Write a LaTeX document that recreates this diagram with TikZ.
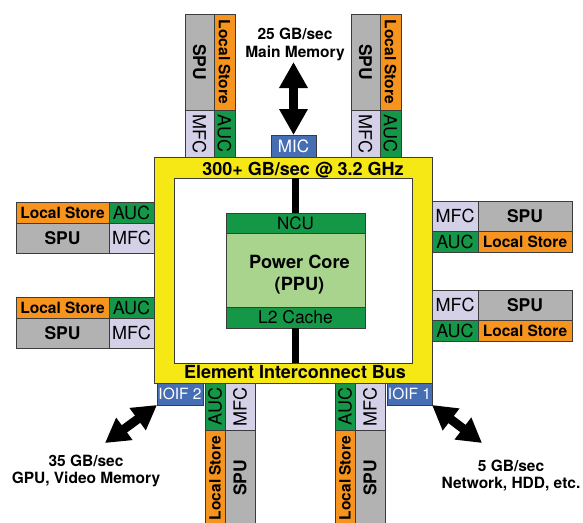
\documentclass[tikz,border=0pt]{standalone}
\usepackage{fontspec}
\setmainfont{TeX Gyre Heros}
\usetikzlibrary{arrows.meta}
\definecolor{yel}{RGB}{245,232,20}
\definecolor{orng}{RGB}{247,148,30}
\definecolor{dgreen}{RGB}{20,152,72}
\definecolor{lgreen}{RGB}{168,212,142}
\definecolor{gry}{RGB}{178,178,178}
\definecolor{lav}{RGB}{212,208,232}
\definecolor{blu}{RGB}{70,110,180}
\definecolor{edge}{RGB}{60,60,60}
\begin{document}
\begin{tikzpicture}[x=1pt,y=-1pt,
  bx/.style={draw=edge, line width=0.8pt, inner sep=0pt, outer sep=0pt, text=black},
  spu/.style={bx, fill=gry, font=\bfseries\fontsize{17.5}{20}\selectfont},
  ls/.style={bx, fill=orng, font=\bfseries\fontsize{15.5}{18}\selectfont},
  mfc/.style={bx, fill=lav, font=\fontsize{18}{20}\selectfont},
  auc/.style={bx, fill=dgreen, font=\fontsize{18}{20}\selectfont},
  iobox/.style={bx, fill=blu, text=white, font=\fontsize{15.5}{18}\selectfont},
  big/.style={inner sep=0pt, font=\bfseries\fontsize{18}{22}\selectfont},
  lab/.style={inner sep=0pt, align=center, font=\bfseries\fontsize{15.5}{17}\selectfont},
  dbl/.style={line width=9pt, {Triangle[length=24pt,width=26pt]}-{Triangle[length=24pt,width=26pt]}},
  dblv/.style={line width=9pt, {Triangle[length=26pt,width=27pt]}-{Triangle[length=26pt,width=27pt]}},
]
\useasboundingbox (0,0) rectangle (583,522);

% Element Interconnect Bus frame
\node[bx, fill=yel, minimum width=278pt, minimum height=226pt] (eib) at (293,270) {};
\node[bx, fill=white, minimum width=238pt, minimum height=185pt] (inner) at (293,270.5) {};
\node[big, anchor=base] (eibtop) at (303,175) {300+ GB/sec @ 3.2 GHz};
\node[big, anchor=base] (eibbot) at (295,378) {Element Interconnect Bus};

% Power core
\node[bx, fill=dgreen, minimum width=139pt, minimum height=20pt, font=\fontsize{17}{20}\selectfont] (ncu) at (295.5,223) {NCU};
\node[bx, fill=lgreen, minimum width=139pt, minimum height=74pt] (ppu) at (295.5,270) {};
\node[bx, fill=dgreen, minimum width=139pt, minimum height=21pt, font=\fontsize{17.5}{20}\selectfont] (l2) at (295.5,317.5) {L2 Cache};
\node[inner sep=0pt, align=center, font=\bfseries\fontsize{18.2}{22}\selectfont] (ppulab) at (299.5,275) {Power Core\\(PPU)};
\draw[line width=7pt] (ncu.north) -- (ncu.north |- inner.north);
\draw[line width=7pt] (l2.south) -- (l2.south |- inner.south);

% Top SPEs
\node[spu, rotate=-90, minimum width=96pt, minimum height=29pt] (spuT1) at (199.5,62) {SPU};
\node[ls, rotate=-90, minimum width=96pt, minimum height=21pt] (lsT1) at (224.5,62) {Local Store};
\node[mfc, rotate=-90, minimum width=47pt, minimum height=29pt] (mfcT1) at (199.5,133.5) {MFC};
\node[auc, rotate=-90, minimum width=47pt, minimum height=21pt] (aucT1) at (224.5,133.5) {AUC};
\node[spu, rotate=-90, minimum width=96pt, minimum height=29pt] (spuT2) at (365.5,62) {SPU};
\node[ls, rotate=-90, minimum width=96pt, minimum height=21pt] (lsT2) at (390.5,62) {Local Store};
\node[mfc, rotate=-90, minimum width=47pt, minimum height=29pt] (mfcT2) at (365.5,133.5) {MFC};
\node[auc, rotate=-90, minimum width=47pt, minimum height=21pt] (aucT2) at (390.5,133.5) {AUC};

% MIC and main memory
\node[bx, fill=blu, text=white, minimum width=45pt, minimum height=22pt, font=\fontsize{17}{20}\selectfont] (mic) at (293.5,146) {MIC};
\node[lab, font=\bfseries\fontsize{15.5}{18.5}\selectfont] (memlab) at (295,44.5) {25 GB/sec\\Main Memory};
\coordinate (memtip) at (293.5,62);
\draw[dblv] (mic.north) -- (memtip);

% Left SPEs
\node[ls, minimum width=93pt, minimum height=21pt] (lsL1) at (62.5,212.5) {Local Store};
\node[auc, minimum width=45pt, minimum height=21pt] (aucL1) at (131.5,212.5) {AUC};
\node[spu, minimum width=93pt, minimum height=30pt] (spuL1) at (62.5,238) {SPU};
\node[mfc, minimum width=45pt, minimum height=30pt] (mfcL1) at (131.5,238) {MFC};
\node[ls, minimum width=93pt, minimum height=21pt] (lsL2) at (62.5,307.5) {Local Store};
\node[auc, minimum width=45pt, minimum height=21pt] (aucL2) at (131.5,307.5) {AUC};
\node[spu, minimum width=93pt, minimum height=30pt] (spuL2) at (62.5,333) {SPU};
\node[mfc, minimum width=45pt, minimum height=30pt] (mfcL2) at (131.5,333) {MFC};

% Right SPEs
\node[mfc, minimum width=46pt, minimum height=30pt] (mfcR1) at (455,216) {MFC};
\node[spu, minimum width=94pt, minimum height=30pt] (spuR1) at (525,216) {SPU};
\node[auc, minimum width=46pt, minimum height=21pt] (aucR1) at (455,241.5) {AUC};
\node[ls, minimum width=94pt, minimum height=21pt] (lsR1) at (525,241.5) {Local Store};
\node[mfc, minimum width=46pt, minimum height=30pt] (mfcR2) at (455,305) {MFC};
\node[spu, minimum width=94pt, minimum height=30pt] (spuR2) at (525,305) {SPU};
\node[auc, minimum width=46pt, minimum height=21pt] (aucR2) at (455,330.5) {AUC};
\node[ls, minimum width=94pt, minimum height=21pt] (lsR2) at (525,330.5) {Local Store};

% Bottom SPEs
\node[auc, rotate=90, minimum width=47pt, minimum height=20pt] (aucB1) at (215,406.5) {AUC};
\node[mfc, rotate=90, minimum width=47pt, minimum height=30pt] (mfcB1) at (240,406.5) {MFC};
\node[ls, rotate=90, minimum width=96pt, minimum height=20pt] (lsB1) at (215,478) {Local Store};
\node[spu, rotate=90, minimum width=96pt, minimum height=30pt] (spuB1) at (240,478) {SPU};
\node[auc, rotate=90, minimum width=47pt, minimum height=20pt] (aucB2) at (345,406.5) {AUC};
\node[mfc, rotate=90, minimum width=47pt, minimum height=30pt] (mfcB2) at (370,406.5) {MFC};
\node[ls, rotate=90, minimum width=96pt, minimum height=20pt] (lsB2) at (345,478) {Local Store};
\node[spu, rotate=90, minimum width=96pt, minimum height=30pt] (spuB2) at (370,478) {SPU};

% IO interfaces
\node[iobox, minimum width=46pt, minimum height=22pt] (ioif2) at (180,394) {IOIF 2};
\node[iobox, minimum width=45pt, minimum height=22pt] (ioif1) at (409.5,394) {IOIF 1};
\coordinate (gputip) at (105,443);
\coordinate (nettip) at (482,443);
\draw[dbl] (ioif2.south west) -- (gputip);
\draw[dbl] (ioif1.south east) -- (nettip);
\node[lab] (gpulab) at (86,471) {35 GB/sec\\GPU, Video Memory};
\node[lab] (netlab) at (511,475.5) {5 GB/sec\\Network, HDD, etc.};
\end{tikzpicture}
\end{document}
